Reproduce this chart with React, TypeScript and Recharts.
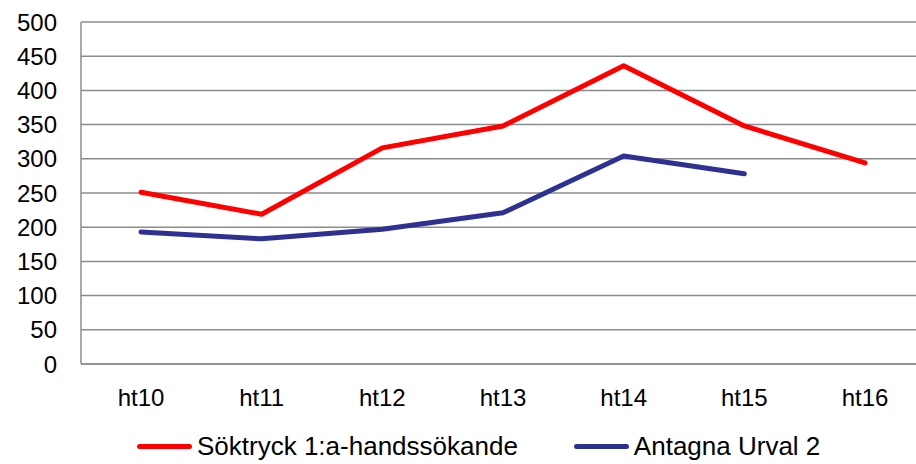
import { LineChart, Line, XAxis, YAxis, CartesianGrid, Legend } from 'recharts';

const terms = ['ht10', 'ht11', 'ht12', 'ht13', 'ht14', 'ht15', 'ht16'];
const soktryck = [251, 219, 316, 348, 436, 348, 294];
const antagna = [193, 183, 197, 221, 304, 278, null];
const yTicks = [0, 50, 100, 150, 200, 250, 300, 350, 400, 450, 500];

const seriesInfo = [
  { key: 'soktryck', name: 'Söktryck 1:a-handssökande', color: '#ff0000' },
  { key: 'antagna', name: 'Antagna Urval 2', color: '#2e3192' },
];

const data = terms.map((t, i) => ({ term: t, soktryck: soktryck[i], antagna: antagna[i] }));

const font = '"Liberation Sans", Arial, sans-serif';
const gridColor = '#8c8c8c';

const renderLegend = () => (
  <div style={{ display: 'flex', alignItems: 'center', paddingLeft: 137, height: 36, fontFamily: font, fontSize: 26, color: '#000' }}>
    {seriesInfo.map((s) => (
      <div key={s.key} style={{ display: 'flex', alignItems: 'center', marginRight: 56 }}>
        <div style={{ width: 55, height: 5, borderRadius: 3, background: s.color, marginRight: 5 }} />
        <span>{s.name}</span>
      </div>
    ))}
  </div>
);

export default function App() {
  return (
    <div style={{ position: 'absolute', left: 0, top: 0, width: 916, height: 464, overflow: 'hidden', background: '#fff' }}>
      <LineChart width={925} height={464} data={data} margin={{ top: 22, right: 0, bottom: 0, left: 0 }}>
        <CartesianGrid vertical={false} stroke={gridColor} strokeWidth={1.5} />
        <XAxis
          dataKey="term"
          height={64}
          padding={{ left: 60, right: 60 }}
          tickLine={false}
          tickMargin={19}
          axisLine={{ stroke: gridColor, strokeWidth: 1.5 }}
          tick={{ fill: '#000', fontSize: 24, fontFamily: font }}
        />
        <YAxis
          width={81}
          domain={[0, 500]}
          ticks={yTicks}
          interval={0}
          tickLine={false}
          tickMargin={18}
          axisLine={{ stroke: gridColor, strokeWidth: 1.5 }}
          tick={{ fill: '#000', fontSize: 24, fontFamily: font }}
        />
        <Legend verticalAlign="bottom" height={36} content={renderLegend} wrapperStyle={{ left: 0, width: 916 }} />
        {seriesInfo.map((s) => (
          <Line
            key={s.key}
            dataKey={s.key}
            name={s.name}
            stroke={s.color}
            strokeWidth={5}
            strokeLinecap="round"
            strokeLinejoin="round"
            dot={false}
            activeDot={false}
            isAnimationActive={false}
          />
        ))}
      </LineChart>
    </div>
  );
}
